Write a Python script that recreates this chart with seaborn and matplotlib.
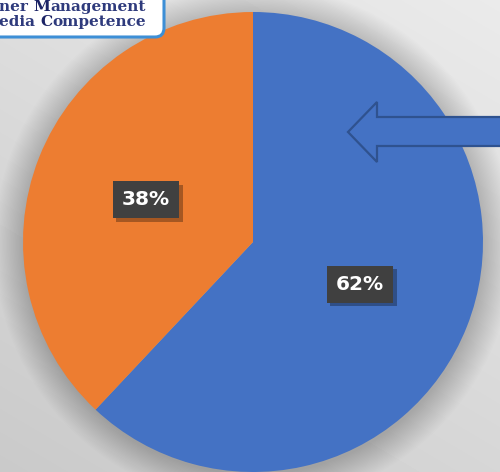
import numpy as np
import matplotlib
matplotlib.use("Agg")
import matplotlib.pyplot as plt
import matplotlib.patheffects as pe
import seaborn as sns
from matplotlib.patches import Polygon, FancyBboxPatch, Circle

sns.set_theme(style="white")
plt.rcParams['font.family'] = ['DejaVu Sans']

# ---- data ----
categories = ["Blue segment", "Orange segment"]
values = [62, 38]
colors = ["#4472C4", "#ED7D31"]
logo_line1 = ["ner ", "M", "anagement"]
logo_line2 = ["edia ", "C", "ompetence"]

W, H = 500, 472
fig = plt.figure(figsize=(W / 100, H / 100), dpi=100)

# background axes in pixel coordinates
ax_bg = fig.add_axes([0, 0, 1, 1], zorder=0)
ax_bg.set_xlim(0, W)
ax_bg.set_ylim(H, 0)
ax_bg.axis("off")
yy, xx = np.mgrid[0:H, 0:W]
grad = 0.79 + 0.05 * (xx / W) + 0.08 * (1 - yy / H)
ax_bg.imshow(grad, cmap="gray", vmin=0, vmax=1, extent=(0, W, H, 0), aspect="auto")
# soft shadow around pie
cx, cy, R = 253, 242, 230
for k in range(24):
    ax_bg.add_patch(Circle((cx + 1, cy + 3), R + k * 1.3, color="black", alpha=0.009, lw=0))

# pie axes
ax = fig.add_axes([(cx - R) / W, (H - cy - R) / H, 2 * R / W, 2 * R / H], zorder=1)
ax.set_facecolor("none")
wedges, texts, autotexts = ax.pie(
    values, colors=colors, startangle=90, counterclock=False,
    autopct="%1.0f%%", pctdistance=0.5, radius=1,
    wedgeprops=dict(linewidth=0),
    textprops=dict(color="white", fontsize=14.5, fontweight="bold"),
)
ax.set_xlim(-1, 1)
ax.set_ylim(-1, 1)
ax.set_aspect("auto")
for t in autotexts:
    t.set_bbox(dict(boxstyle="square,pad=0.45", fc="#404040", ec="none"))
    t.get_bbox_patch().set_path_effects(
        [pe.SimplePatchShadow(offset=(2.5, -2.5), shadow_rgbFace="black", alpha=0.3), pe.Normal()])
    t.set_zorder(4)

# overlay axes
ax_top = fig.add_axes([0, 0, 1, 1], zorder=2)
ax_top.set_xlim(0, W)
ax_top.set_ylim(H, 0)
ax_top.axis("off")
ax_top.set_facecolor("none")

arrow = Polygon([(348, 132), (377, 102), (377, 117), (506, 117), (506, 146),
                 (377, 146), (377, 162)], closed=True, fc="#4472C4", ec="#2F528F", lw=1.6)
ax_top.add_patch(arrow)

# logo box
logo = FancyBboxPatch((-20, -20), 184, 57, boxstyle="round,pad=0,rounding_size=9",
                      fc="white", ec="#3d8fd6", lw=2.2)
ax_top.add_patch(logo)

def chain(parts, x, y):
    prev = None
    for i, p in enumerate(parts):
        bold = (i == 1)
        kw = dict(fontsize=11, family="DejaVu Serif",
                  color="#1c2466" if bold else "#2e3a7c",
                  fontweight="bold" if bold else "semibold")
        if prev is None:
            prev = ax_top.text(x, y, p, ha="left", va="baseline", **kw)
        else:
            prev = ax_top.annotate(p, xy=(1, 0), xycoords=prev, ha="left", va="bottom", **kw)

chain(logo_line1, -1, 11)
chain(logo_line2, -1, 26)

fig.savefig("out.png", dpi=100)
